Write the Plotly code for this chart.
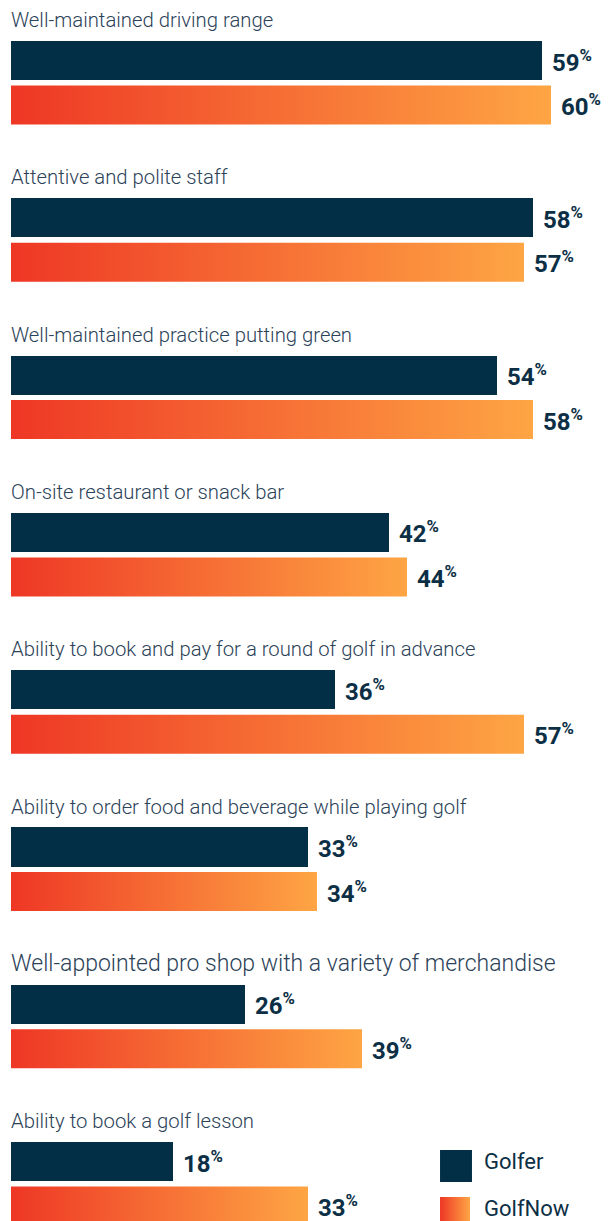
import plotly.graph_objects as go

# Data
categories = [
    "Well-maintained driving range",
    "Attentive and polite staff",
    "Well-maintained practice putting green",
    "On-site restaurant or snack bar",
    "Ability to book and pay for a round of golf in advance",
    "Ability to order food and beverage while playing golf",
    "Well-appointed pro shop with a variety of merchandise",
    "Ability to book a golf lesson",
]
golfer = [59, 58, 54, 42, 36, 33, 26, 18]
golfnow = [60, 57, 58, 44, 57, 34, 39, 33]
series_names = ["Golfer", "GolfNow"]

# Warna
NAVY = "#032f46"
TEXT = "#0c2f45"
LABEL = "#2b4258"
GRAD = [[0, "#ee3725"], [1, "#fea544"]]

# Geometri (satuan sumbu y = satu grup)
BAR_W = 0.248
OFFSET = 0.283
LABEL_OFF = -0.257
FONT = "Roboto"

fig = go.Figure()

idx = list(range(len(categories)))

# Bar Golfer (navy)
fig.add_trace(go.Bar(
    x=golfer, y=idx, orientation="h", width=BAR_W,
    marker=dict(color=NAVY, line=dict(width=0)),
    name=series_names[0], showlegend=False, hoverinfo="skip",
))

# Bar GolfNow (gradien) - satu trace per bar supaya gradien mengikuti panjang bar
for i, v in enumerate(golfnow):
    y0 = i + OFFSET - BAR_W / 2
    y1 = i + OFFSET + BAR_W / 2
    fig.add_trace(go.Scatter(
        x=[0, v, v, 0, 0], y=[y0, y0, y1, y1, y0],
        mode="lines", line=dict(width=0), fill="toself",
        fillgradient=dict(type="horizontal", colorscale=GRAD),
        showlegend=False, hoverinfo="skip",
    ))

annotations = []
for i, cat in enumerate(categories):
    # Label kategori di atas setiap grup
    annotations.append(dict(
        x=0, y=i + LABEL_OFF, xref="x", yref="y", text=cat,
        showarrow=False, xanchor="left", yanchor="middle", xshift=-2,
        font=dict(family=FONT, size=23 if i == 6 else 20.3, color=LABEL, weight=300),
    ))
    # Nilai persen
    for val, yy in [(golfer[i], i), (golfnow[i], i + OFFSET)]:
        annotations.append(dict(
            x=val, y=yy, xref="x", yref="y",
            text=f"<b>{val}<sup>%</sup></b>",
            showarrow=False, xanchor="left", yanchor="middle", xshift=8,
            font=dict(family=FONT, size=24, color=TEXT),
        ))

# Legend manual
for name, yy in zip(series_names, [7.0, 7.3]):
    annotations.append(dict(
        x=52.3, y=yy, xref="x", yref="y", text=name,
        showarrow=False, xanchor="left", yanchor="middle",
        font=dict(family=FONT, size=22, color=TEXT),
    ))

shapes = [dict(
    type="rect", xref="x", yref="y", x0=47.67, x1=51.22, y0=6.926, y1=7.13,
    fillcolor=NAVY, line=dict(width=0),
)]

fig.add_trace(go.Scatter(
    x=[47.67, 51.0, 51.0, 47.67, 47.67], y=[7.225, 7.225, 7.45, 7.45, 7.225],
    mode="lines", line=dict(width=0), fill="toself",
    fillgradient=dict(type="horizontal", colorscale=GRAD),
    showlegend=False, hoverinfo="skip",
))

fig.update_layout(
    width=613, height=1221,
    margin=dict(l=0, r=0, t=0, b=0),
    paper_bgcolor="white", plot_bgcolor="white",
    showlegend=False,
    annotations=annotations, shapes=shapes,
    # range digeser 8px karena margin body halaman
    xaxis=dict(range=[-3 / 9, 610 / 9], visible=False, fixedrange=True),
    yaxis=dict(range=[7.4285, -0.3338], visible=False, fixedrange=True),
    bargap=0,
)

fig.write_html("out.html")
